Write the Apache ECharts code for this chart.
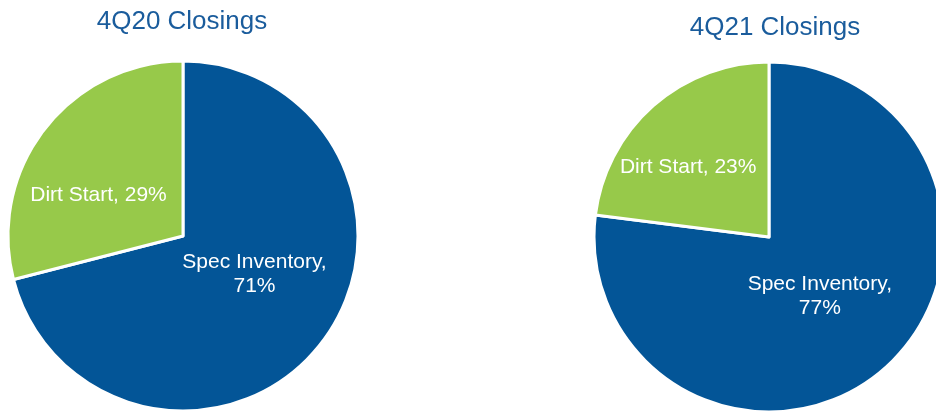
<!DOCTYPE html>
<html><head><meta charset="utf-8">
<script src="https://cdn.jsdelivr.net/npm/echarts@6/dist/echarts.min.js"></script>
<style>html,body{margin:0;padding:0;background:#fff;}#c{width:936px;height:411px;}</style>
</head><body><div id="c"></div>
<script>
const categories = ['Spec Inventory', 'Dirt Start'];
const values4Q20 = [71, 29];
const values4Q21 = [77, 23];
const titles = ['4Q20 Closings', '4Q21 Closings'];
const colors = ['#035597', '#97c94a'];

const chart = echarts.init(document.getElementById('c'));
function mk(vals, center, offsets) {
  return {
    type: 'pie', center: center, radius: 175, startAngle: 90, clockwise: true,
    silent: true,
    itemStyle: { borderColor: '#fff', borderWidth: 3 },
    label: {
      position: 'inside', color: '#fff', fontFamily: 'Liberation Sans, Arial, sans-serif',
      fontSize: 21, lineHeight: 24,
      formatter: p => p.dataIndex === 0 ? p.name + ',\n' + p.value + '%' : p.name + ', ' + p.value + '%'
    },
    labelLine: { show: false },
    data: vals.map((v, i) => ({ name: categories[i], value: v, itemStyle: { color: colors[i] }, label: { offset: offsets[i] } }))
  };
}
const tStyle = { color: '#1a5c9c', fontSize: 26, fontWeight: 'normal', fontFamily: 'Liberation Sans, Arial, sans-serif' };
chart.setOption({
  animation: false,
  title: [
    { text: titles[0], left: 177, top: 4, textAlign: 'center', textStyle: tStyle },
    { text: titles[1], left: 770, top: 10, textAlign: 'center', textStyle: tStyle }
  ],
  series: [
    mk(values4Q20, [183, 236], [[0, -17], [-13, 15]]),
    mk(values4Q21, [769, 237], [[-9, -9], [-21, -2]])
  ]
});
</script></body></html>
